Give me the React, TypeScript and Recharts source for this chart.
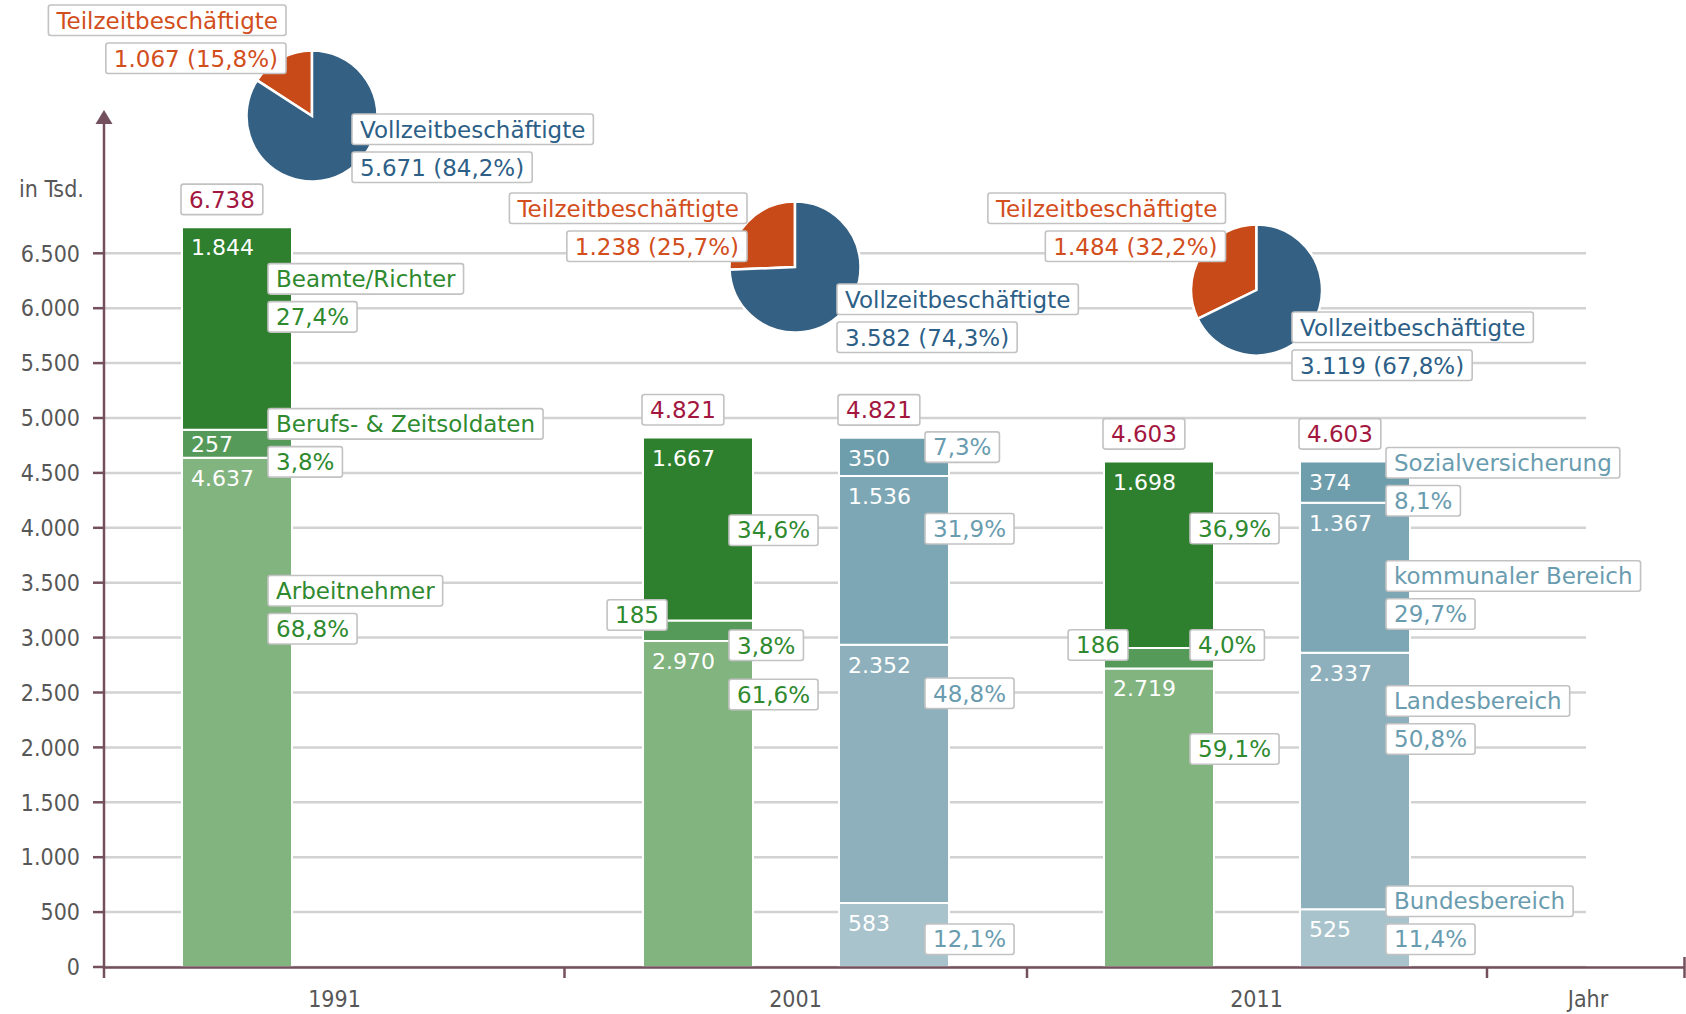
import React from "react";
import { BarChart, Bar, XAxis, YAxis, CartesianGrid, LabelList, PieChart, Pie, Cell } from "recharts";

const years = ["1991", "2001", "2011"];

// Beschäftigte nach Dienstverhältnis, in Tsd.
const arbeitnehmer = [4637, 2970, 2719];
const soldaten = [257, 185, 186];
const beamte = [1844, 1667, 1698];

// Beschäftigte nach Ebenen, in Tsd. (1991 nicht ausgewiesen)
const bund = [null, 583, 525];
const land = [null, 2352, 2337];
const kommunal = [null, 1536, 1367];
const sozial = [null, 350, 374];

const totals = [6738, 4821, 4603];

// Voll- und Teilzeit, in Tsd.
const vollzeit = [5671, 3582, 3119];
const teilzeit = [1067, 1238, 1484];

const yTicks = [0, 500, 1000, 1500, 2000, 2500, 3000, 3500, 4000, 4500, 5000, 5500, 6000, 6500];

const W = 1686;
const H = 1014;
const PLOT_LEFT = 104;
const BAND_END = 1487;
const FONT = "'DejaVu Sans', Verdana, sans-serif";
const COND = "'DejaVu Sans Condensed', 'DejaVu Sans', sans-serif";
const AXIS = "#74505e";
const GREY = "#575757";
const GREEN_TXT = "#2f8a2f";
const BLUE_TXT = "#6a9caf";
const TOTAL_TXT = "#a3173f";
const T_COLOR = "#c94a19";
const V_COLOR = "#346083";
const T_TXT = "#d24e1c";
const V_TXT = "#2d5f87";

type Series = {
  key: string;
  name: string;
  stack: "status" | "ebene";
  values: (number | null)[];
  fill: string;
  text: string;
};

const series: Series[] = [
  { key: "arbeitnehmer", name: "Arbeitnehmer", stack: "status", values: arbeitnehmer, fill: "#82b480", text: GREEN_TXT },
  { key: "soldaten", name: "Berufs- & Zeitsoldaten", stack: "status", values: soldaten, fill: "#569a5a", text: GREEN_TXT },
  { key: "beamte", name: "Beamte/Richter", stack: "status", values: beamte, fill: "#2e802e", text: GREEN_TXT },
  { key: "bund", name: "Bundesbereich", stack: "ebene", values: bund, fill: "#a9c3cc", text: BLUE_TXT },
  { key: "land", name: "Landesbereich", stack: "ebene", values: land, fill: "#8db0bc", text: BLUE_TXT },
  { key: "kommunal", name: "kommunaler Bereich", stack: "ebene", values: kommunal, fill: "#7ea7b5", text: BLUE_TXT },
  { key: "sozial", name: "Sozialversicherung", stack: "ebene", values: sozial, fill: "#6e9dac", text: BLUE_TXT },
];

const rows = years.map((year, i) => {
  const row: Record<string, string | number | null> = { year };
  series.forEach((s) => (row[s.key] = s.values[i]));
  return row;
});

// where the percent boxes sit, as a value on the y axis
const pctAnchor: Record<string, (number | null)[]> = {
  beamte: [5921, 3978, 3994],
  soldaten: [4600, 2930, 2933],
  arbeitnehmer: [3081, 2482, 1986],
  sozial: [null, 4735, 4247],
  kommunal: [null, 3992, 3215],
  land: [null, 2493, 2077],
  bund: [null, 253, 253],
};
// thin segments get their value in a box left of the bar
const outsideAnchor: Record<string, (number | null)[]> = {
  soldaten: [null, 3206, 2933],
};
const nameAt = { status: 0, ebene: 2 };

const pieLayout = [
  { cx: 312, cy: 116, t: [-26, -111], v: [40, -2] },
  { cx: 795, cy: 267, t: [-48, -74], v: [42, 17] },
  { cx: 1256.5, cy: 290, t: [-31, -97], v: [35.5, 22] },
];

const fmt = (n: number) => String(Math.round(n)).replace(/\B(?=(\d{3})+(?!\d))/g, ".");
const pct = (part: number, whole: number) => ((part / whole) * 100).toFixed(1).replace(".", ",") + "%";

let ctx: CanvasRenderingContext2D | null = null;
function textWidth(s: string, size: number) {
  if (!ctx && typeof document !== "undefined") ctx = document.createElement("canvas").getContext("2d");
  if (!ctx) return s.length * size * 0.6;
  ctx.font = `${size}px 'DejaVu Sans'`;
  return ctx.measureText(s).width;
}

const BOX_H = 30.5;
function Box({ x, y, text, color, align = "left" }: { x: number; y: number; text: string; color: string; align?: "left" | "right" }) {
  const w = textWidth(text, 23) + 16;
  const left = align === "left" ? x : x - w;
  return (
    <g>
      <rect x={left} y={y} width={w} height={BOX_H} rx={2.5} fill="#fff" stroke="#c2c2c2" strokeWidth={1.6} />
      <text x={left + 8} y={y + 23.5} fill={color} fontSize={23} fontFamily={FONT}>
        {text}
      </text>
    </g>
  );
}

function stackBase(s: Series, i: number) {
  let base = 0;
  for (const o of series) {
    if (o === s) break;
    if (o.stack === s.stack) base += o.values[i] ?? 0;
  }
  return base;
}

// category of a label: by its value, else by the band it sits in
function categoryOf(s: Series, value: any, x: number) {
  let v = value;
  if (Array.isArray(v)) v = Number(v[1]) - Number(v[0]);
  const found = s.values.indexOf(Number(v));
  if (found >= 0) return found;
  const band = (BAND_END - PLOT_LEFT) / years.length;
  return Math.max(0, Math.min(years.length - 1, Math.floor((x - PLOT_LEFT) / band)));
}

function makeSegLabel(s: Series) {
  return (props: any) => {
    const vb = props.viewBox ?? props;
    const x = Number(vb.x);
    const y = Number(vb.y);
    const w = Number(vb.width);
    const h = Number(vb.height);
    if (!Number.isFinite(x) || !(h > 0)) return null;
    const i = categoryOf(s, props.value, x);
    const v = s.values[i];
    if (v == null) return null;
    const k = h / v;
    const y0 = y + h + stackBase(s, i) * k;
    const py = (d: number) => y0 - d * k;
    const out: React.ReactNode[] = [];

    const ov = outsideAnchor[s.key]?.[i];
    if (ov != null) {
      out.push(<Box key="v" x={x + 24} y={py(ov) - BOX_H / 2} text={fmt(v)} color={s.text} align="right" />);
    } else {
      const by = h < 35 ? y + h / 2 + 8 : y + 28;
      out.push(
        <text key="v" x={x + 9} y={by} fill="#fff" fontSize={22} fontFamily={FONT}>
          {fmt(v)}
        </text>
      );
    }

    const pa = pctAnchor[s.key]?.[i];
    if (pa != null) {
      const top = py(pa) - BOX_H / 2;
      if (nameAt[s.stack] === i) out.push(<Box key="n" x={x + w - 24} y={top - 38} text={s.name} color={s.text} />);
      out.push(<Box key="p" x={x + w - 24} y={top} text={pct(v, totals[i])} color={s.text} />);
    }

    if (s.key === "beamte" || s.key === "sozial") {
      out.push(<Box key="t" x={x - 1} y={y - 12.5 - BOX_H} text={fmt(totals[i])} color={TOTAL_TXT} />);
    }
    return <g>{out}</g>;
  };
}

const XTick = (p: any) => (
  <text x={p.x} y={1007} textAnchor="middle" fill={GREY} fontSize={23} fontFamily={COND} style={{ fontStretch: "condensed" }}>
    {p.payload.value}
  </text>
);

const YTick = (p: any) => (
  <text x={p.x} y={p.y} dy="0.36em" textAnchor="end" fill={GREY} fontSize={23} fontFamily={COND} style={{ fontStretch: "condensed" }}>
    {fmt(p.payload.value)}
  </text>
);

function Bars({ labels }: { labels: boolean }) {
  return (
    <BarChart width={W} height={H} data={rows} margin={{ top: 198.4, right: 100, bottom: 17, left: 0 }} barSize={110} barGap={86}>
      {!labels && <CartesianGrid vertical={false} syncWithTicks stroke="#d2d2d2" strokeWidth={2.5} />}
      <XAxis
        dataKey="year"
        padding={{ left: 0, right: W - 100 - BAND_END }}
        axisLine={false}
        tickLine={false}
        interval={0}
        height={30}
        tick={labels ? false : XTick}
      />
      <YAxis
        domain={[0, 7000]}
        ticks={yTicks}
        width={PLOT_LEFT}
        interval={0}
        axisLine={false}
        tickSize={11}
        tickMargin={13}
        tickLine={labels ? false : { stroke: AXIS, strokeWidth: 2.5 }}
        tick={labels ? false : YTick}
      />
      {series.map((s) => (
        <Bar
          key={s.key}
          dataKey={s.key}
          stackId={s.stack}
          fill={labels ? "none" : s.fill}
          stroke={labels ? "none" : "#fff"}
          strokeWidth={2}
          isAnimationActive={false}
        >
          {labels && <LabelList dataKey={s.key} content={makeSegLabel(s)} />}
        </Bar>
      ))}
    </BarChart>
  );
}

const pieLabel = (li: number) => (p: any) => {
  const L = pieLayout[li];
  const cx = Number.isFinite(Number(p.cx)) ? Number(p.cx) : L.cx;
  const cy = Number.isFinite(Number(p.cy)) ? Number(p.cy) : L.cy;
  const total = vollzeit[li] + teilzeit[li];
  if (p.index === 0) {
    const [dx, dy] = L.t;
    return (
      <g>
        <Box x={cx + dx} y={cy + dy} text="Teilzeitbeschäftigte" color={T_TXT} align="right" />
        <Box x={cx + dx} y={cy + dy + 38} text={`${fmt(teilzeit[li])} (${pct(teilzeit[li], total)})`} color={T_TXT} align="right" />
      </g>
    );
  }
  const [dx, dy] = L.v;
  return (
    <g>
      <Box x={cx + dx} y={cy + dy} text="Vollzeitbeschäftigte" color={V_TXT} />
      <Box x={cx + dx} y={cy + dy + 38} text={`${fmt(vollzeit[li])} (${pct(vollzeit[li], total)})`} color={V_TXT} />
    </g>
  );
};

function Pies() {
  return (
    <PieChart width={W} height={H} margin={{ top: 0, right: 0, bottom: 0, left: 0 }}>
      {pieLayout.map((L, i) => (
        <Pie
          key={i}
          data={[
            { name: "Teilzeitbeschäftigte", value: teilzeit[i] },
            { name: "Vollzeitbeschäftigte", value: vollzeit[i] },
          ]}
          dataKey="value"
          cx={L.cx}
          cy={L.cy}
          outerRadius={65.5}
          startAngle={90}
          endAngle={450}
          stroke="#fff"
          strokeWidth={2.5}
          labelLine={false}
          label={pieLabel(i)}
          isAnimationActive={false}
        >
          <Cell fill={T_COLOR} />
          <Cell fill={V_COLOR} />
        </Pie>
      ))}
    </PieChart>
  );
}

const layer: React.CSSProperties = { position: "absolute", left: 0, top: 0 };
const bandTicks = [564.5, 1027, BAND_END];

export default function App() {
  return (
    <div style={{ position: "absolute", left: 0, top: 0, width: W, height: H, background: "#fff", overflow: "hidden" }}>
      <div style={layer}>
        <Bars labels={false} />
      </div>
      <svg width={W} height={H} style={layer}>
        <line x1={PLOT_LEFT} y1={120} x2={PLOT_LEFT} y2={978} stroke={AXIS} strokeWidth={2.5} />
        <polygon points="104,110 95.5,124 112.5,124" fill={AXIS} />
        <line x1={102.75} y1={967.5} x2={1685} y2={967.5} stroke={AXIS} strokeWidth={2.5} />
        {bandTicks.map((x) => (
          <line key={x} x1={x} y1={967.5} x2={x} y2={978} stroke={AXIS} strokeWidth={2.5} />
        ))}
        <line x1={1684.5} y1={957} x2={1684.5} y2={978} stroke={AXIS} strokeWidth={2.5} />
        <text x={51.5} y={197} textAnchor="middle" fill={GREY} fontSize={23} fontFamily={COND} style={{ fontStretch: "condensed" }}>
          in Tsd.
        </text>
        <text x={1588} y={1007} textAnchor="middle" fill={GREY} fontSize={23} fontFamily={COND} style={{ fontStretch: "condensed" }}>
          Jahr
        </text>
      </svg>
      <div style={layer}>
        <Bars labels />
      </div>
      <div style={layer}>
        <Pies />
      </div>
    </div>
  );
}
